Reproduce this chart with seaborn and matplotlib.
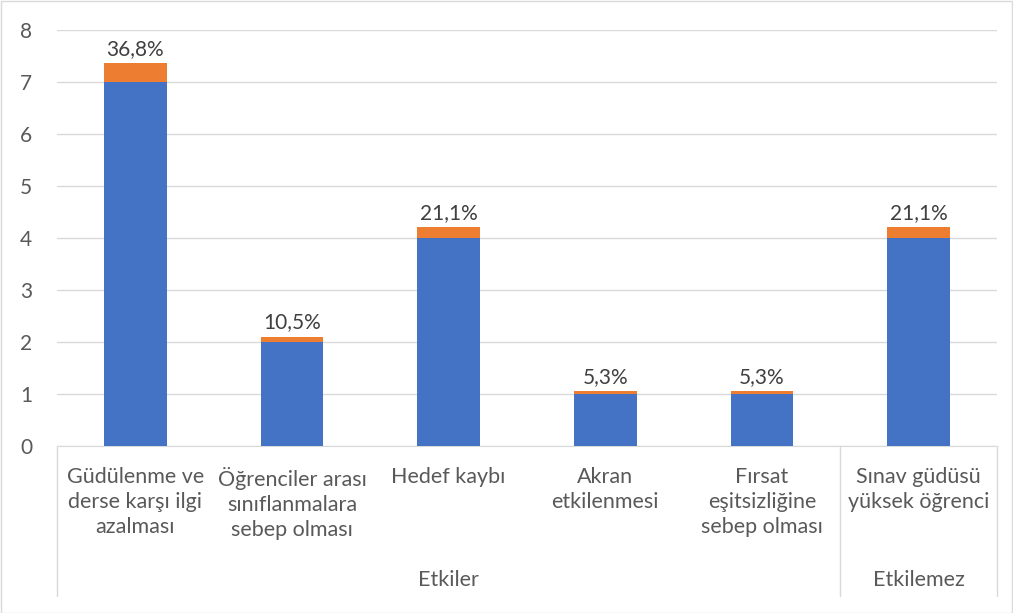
import pandas as pd
import matplotlib.pyplot as plt
import seaborn as sns
from matplotlib.lines import Line2D

# chart values
categories = ['Güdülenme ve\nderse karşı ilgi\nazalması',
              'Öğrenciler arası\nsınıflanmalara\nsebep olması',
              'Hedef kaybı',
              'Akran\netkilenmesi',
              'Fırsat\neşitsizliğine\nsebep olması',
              'Sınav güdüsü\nyüksek öğrenci']
groups = ['Etkiler', 'Etkiler', 'Etkiler', 'Etkiler', 'Etkiler', 'Etkilemez']
counts = [7, 2, 4, 1, 1, 4]
shares = [0.368, 0.105, 0.211, 0.053, 0.053, 0.211]
share_labels = ['36,8%', '10,5%', '21,1%', '5,3%', '5,3%', '21,1%']

df = pd.DataFrame({'cat': categories, 'group': groups,
                   'count': counts, 'share': shares})
df['total'] = df['count'] + df['share']

sns.set_style('white')
plt.rcParams['font.family'] = ['Lato', 'DejaVu Sans']

fig = plt.figure(figsize=(10.13, 6.13), dpi=100)
ax = fig.add_axes([57 / 1013, 167 / 613, 940 / 1013, 416 / 613])

# orange stack on top: draw totals first, counts over it
sns.barplot(data=df, x='cat', y='total', color='#ED7D31', width=0.4,
            saturation=1, linewidth=0, ax=ax, zorder=2)
sns.barplot(data=df, x='cat', y='count', color='#4472C4', width=0.4,
            saturation=1, linewidth=0, ax=ax, zorder=3)

ax.set_ylim(0, 8)
ax.set_xlim(-0.5, len(categories) - 0.5)
ax.set_yticks(range(0, 9))
ax.grid(axis='y', color='#D9D9D9', linewidth=1, zorder=0)
ax.set_axisbelow(True)
for s in ['top', 'right', 'left']:
    ax.spines[s].set_visible(False)
ax.spines['bottom'].set_color('#D9D9D9')
ax.tick_params(axis='y', length=0, pad=18, labelsize=15, labelcolor='#595959')
ax.tick_params(axis='x', length=0)
ax.set_xticklabels([])
ax.set_xlabel('')
ax.set_ylabel('')

# data labels
for i, (t, lab) in enumerate(zip(df['total'], share_labels)):
    ax.text(i, t + 0.08, lab, ha='center', va='bottom', fontsize=15,
            color='#404040')

# category labels
for i, c in enumerate(categories):
    ax.text(i, -0.05, c, transform=ax.get_xaxis_transform(), ha='center',
            va='top', fontsize=15.5, color='#595959', linespacing=1.33)

# group labels and separators
grp_pos = {}
for i, g in enumerate(groups):
    grp_pos.setdefault(g, []).append(i)
for g, idx in grp_pos.items():
    ax.text(sum(idx) / len(idx), -0.323, g, transform=ax.get_xaxis_transform(),
            ha='center', va='center', fontsize=15.5, color='#595959')

bounds = [-0.5] + [i + 0.5 for i in range(len(groups) - 1)
                   if groups[i] != groups[i + 1]] + [len(groups) - 0.5]
for b in bounds:
    ax.add_line(Line2D([b, b], [0, -0.36], transform=ax.get_xaxis_transform(),
                       color='#D9D9D9', linewidth=1, clip_on=False))

# chart border
fig.add_artist(plt.Rectangle((0.5 / 1013, 0.5 / 613), 1 - 1.5 / 1013, 1 - 1.5 / 613,
                             transform=fig.transFigure, fill=False,
                             edgecolor='#D9D9D9', linewidth=1))

fig.savefig('out.png', dpi=100)
